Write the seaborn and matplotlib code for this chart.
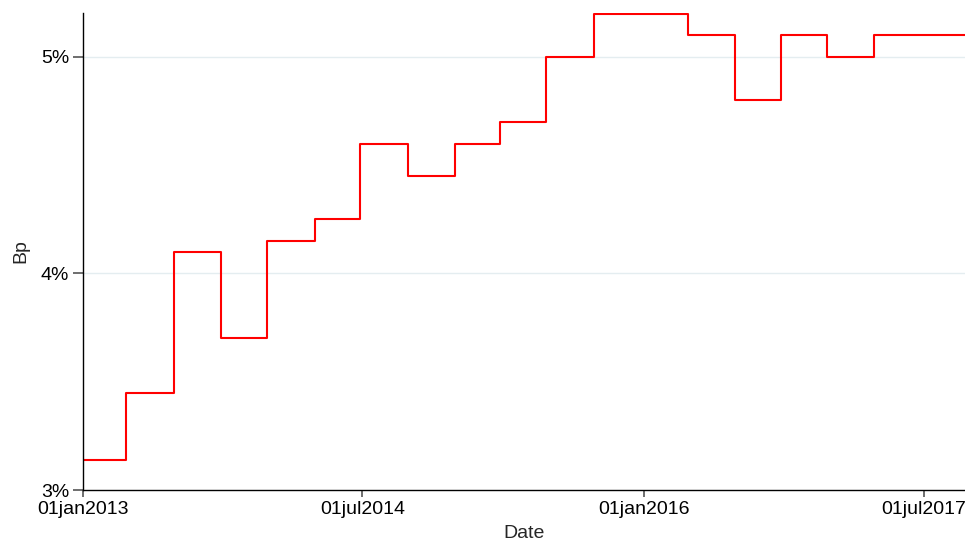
import pandas as pd
import numpy as np
import matplotlib
matplotlib.use("Agg")
import matplotlib.pyplot as plt
from matplotlib.ticker import FuncFormatter
import seaborn as sns

# Datos (Bp en %), escalones trimestrales
dates = ["2013-01-01", "2013-03-26", "2013-06-27", "2013-09-27", "2013-12-26",
         "2014-03-30", "2014-06-26", "2014-09-28", "2014-12-29", "2015-03-26",
         "2015-06-25", "2015-09-27", "2016-03-27", "2016-06-27", "2016-09-26",
         "2016-12-25", "2017-03-27", "2017-09-20"]
bp = [3.14, 3.45, 4.10, 3.70, 4.15,
      4.25, 4.60, 4.45, 4.60, 4.70,
      5.00, 5.20, 5.10, 4.80, 5.10,
      5.00, 5.10, 5.10]

tick_dates = ["2013-01-01", "2014-07-01", "2016-01-01", "2017-07-01"]
tick_labels = ["01jan2013", "01jul2014", "01jan2016", "01jul2017"]
y_ticks = [3, 4, 5]

df = pd.DataFrame({"Date": pd.to_datetime(dates), "Bp": bp})

sns.set_style("white")
plt.rcParams['font.family'] = ['Liberation Sans', 'DejaVu Sans']

fig = plt.figure(figsize=(9.65, 5.44), dpi=100)
ax = fig.add_axes([83 / 965, 54 / 544, 882 / 965, 477 / 544])

# Lineas de cuadricula
for y in y_ticks[1:]:
    ax.axhline(y, color="#e4edf0", linewidth=1.0, zorder=0)

sns.lineplot(data=df, x="Date", y="Bp", ax=ax, color="#ff0000",
             linewidth=1.5, drawstyle="steps-post")

ax.set_xlim(pd.Timestamp(dates[0]), pd.Timestamp(dates[-1]))
ax.set_ylim(3, 5.203)

ax.set_xticks(pd.to_datetime(tick_dates))
ax.set_xticklabels(tick_labels)
ax.set_yticks(y_ticks)
ax.yaxis.set_major_formatter(FuncFormatter(lambda v, p: f"{v:.0f}%"))

ax.tick_params(axis="both", labelsize=14, labelcolor="black", direction="out",
               bottom=True, left=True)
ax.tick_params(axis="y", length=7, width=1.2, color="#555555", pad=3)
ax.tick_params(axis="x", length=5, width=1.2, color="#555555", pad=3)

for s in ["top", "right"]:
    ax.spines[s].set_visible(False)
for s in ["left", "bottom"]:
    ax.spines[s].set_color("black")
    ax.spines[s].set_linewidth(1.0)

ax.set_xlabel("Date", fontsize=14, labelpad=5)
ax.set_ylabel("Bp", fontsize=14, labelpad=8)

fig.savefig("out.png", dpi=100)
plt.close()
